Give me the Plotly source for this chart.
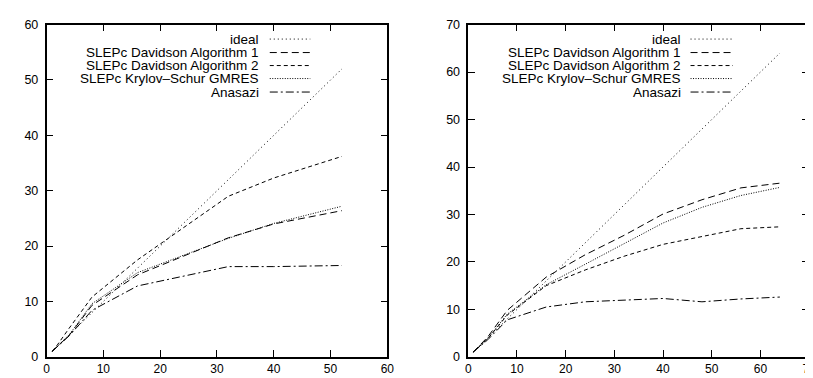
import plotly.graph_objects as go
from plotly.subplots import make_subplots

W, H = 813, 378

# ---------------- data ----------------
series_names = ["ideal", "SLEPc Davidson Algorithm 1", "SLEPc Davidson Algorithm 2",
                "SLEPc Krylov\u2013Schur GMRES", "Anasazi"]

# left panel
left_ideal_x = [1, 52]
left_ideal_y = [1, 52]
left_x = [1, 2, 4, 8, 16, 32, 40, 52]
left_dav1 = [1, 2.0, 3.9, 9.3, 14.8, 21.5, 24.0, 26.4]
left_dav2 = [1, 2.3, 5.2, 10.8, 17.5, 29.0, 32.3, 36.2]
left_ks = [1, 2.0, 4.0, 9.6, 15.2, 21.4, 24.1, 27.2]
left_ana = [1, 1.9, 3.8, 8.4, 12.8, 16.3, 16.3, 16.5]

# right panel
right_ideal_x = [1, 64]
right_ideal_y = [1, 64]
right_x = [1, 2, 4, 8, 16, 24, 32, 40, 48, 56, 64]
right_dav1 = [1, 2.0, 4.2, 9.8, 16.8, 21.5, 25.6, 30.1, 33.1, 35.6, 36.6]
right_dav2 = [1, 1.9, 3.8, 8.8, 15.0, 18.3, 21.2, 23.7, 25.4, 27.0, 27.4]
right_ks = [1, 1.9, 3.9, 9.0, 15.2, 19.5, 23.8, 28.2, 31.5, 34.0, 35.7]
right_ana = [1, 1.8, 3.6, 7.8, 10.5, 11.6, 12.0, 12.3, 11.6, 12.2, 12.6]

left_xticks = [0, 10, 20, 30, 40, 50, 60]
left_yticks = [0, 10, 20, 30, 40, 50, 60]
right_xticks = [0, 10, 20, 30, 40, 50, 60, 70]
right_yticks = [0, 10, 20, 30, 40, 50, 60, 70]

# ---------------- styles ----------------
dashes = ["1px,3px", "7px,4px", "4px,3px", "1px,1.5px", "8px,3px,2px,3px"]
FONT = "Liberation Sans, Arial, Helvetica, sans-serif"

fig = make_subplots(rows=1, cols=2)

panels = [
    (1, left_ideal_x, left_ideal_y, left_x, [left_dav1, left_dav2, left_ks, left_ana]),
    (2, right_ideal_x, right_ideal_y, right_x, [right_dav1, right_dav2, right_ks, right_ana]),
]
for col, ix, iy, xs, ys in panels:
    fig.add_trace(go.Scatter(x=ix, y=iy, mode="lines", name=series_names[0], showlegend=False,
                             line=dict(color="black", width=1, dash=dashes[0])), row=1, col=col)
    for k, yv in enumerate(ys):
        fig.add_trace(go.Scatter(x=xs, y=yv, mode="lines", name=series_names[k + 1], showlegend=False,
                                 line=dict(color="black", width=1, dash=dashes[k + 1])), row=1, col=col)

y0 = (H - 355) / H
y1 = (H - 10) / H
axis_common = dict(showline=True, linecolor="black", linewidth=1.5, mirror="ticks",
                   ticks="inside", ticklen=7, tickwidth=1.3, tickcolor="black",
                   showgrid=False, zeroline=False)
xfont = dict(family=FONT, size=12, color="black")
yfont = dict(family=FONT, size=12.5, color="black")

fig.update_xaxes(domain=[36 / W, 381 / W], range=[0, 60], tickvals=left_xticks,
                 ticklabelstandoff=0, tickfont=xfont, **axis_common, row=1, col=1)
fig.update_yaxes(domain=[y0, y1], range=[0, 60], tickvals=left_yticks,
                 ticklabelstandoff=4, tickfont=yfont, **axis_common, row=1, col=1)
fig.update_xaxes(domain=[463 / W, 808 / W], range=[0, 70], tickvals=right_xticks,
                 ticklabelstandoff=0, tickfont=xfont, **axis_common, row=1, col=2)
fig.update_yaxes(domain=[y0, y1], range=[0, 70], tickvals=right_yticks,
                 ticklabelstandoff=4, tickfont=yfont, **axis_common, row=1, col=2)

# ---------------- manual legends (text left of sample, gnuplot style) ----------------
rows_px = [25, 39, 52.5, 66, 80]
legend_specs = [(252, 262, 303), (679, 688, 731)]
shapes = []
annotations = []
for text_right, s0, s1 in legend_specs:
    for name, dash, ry in zip(series_names, dashes, rows_px):
        yp = 1 - ry / H
        annotations.append(dict(x=text_right / W, y=yp, xref="paper", yref="paper",
                                text=name, showarrow=False, xanchor="right", yanchor="middle",
                                borderpad=0,
                                font=dict(family=FONT, size=13.5, color="black")))
        shapes.append(dict(type="line", xref="paper", yref="paper", x0=s0 / W, x1=s1 / W,
                           y0=yp, y1=yp, line=dict(color="black", width=1, dash=dash)))

fig.update_layout(width=W, height=H, margin=dict(l=0, r=0, t=0, b=0),
                  paper_bgcolor="white", plot_bgcolor="white",
                  shapes=shapes, annotations=annotations, showlegend=False,
                  font=dict(family=FONT, color="black"))

fig.write_html("out.html")
